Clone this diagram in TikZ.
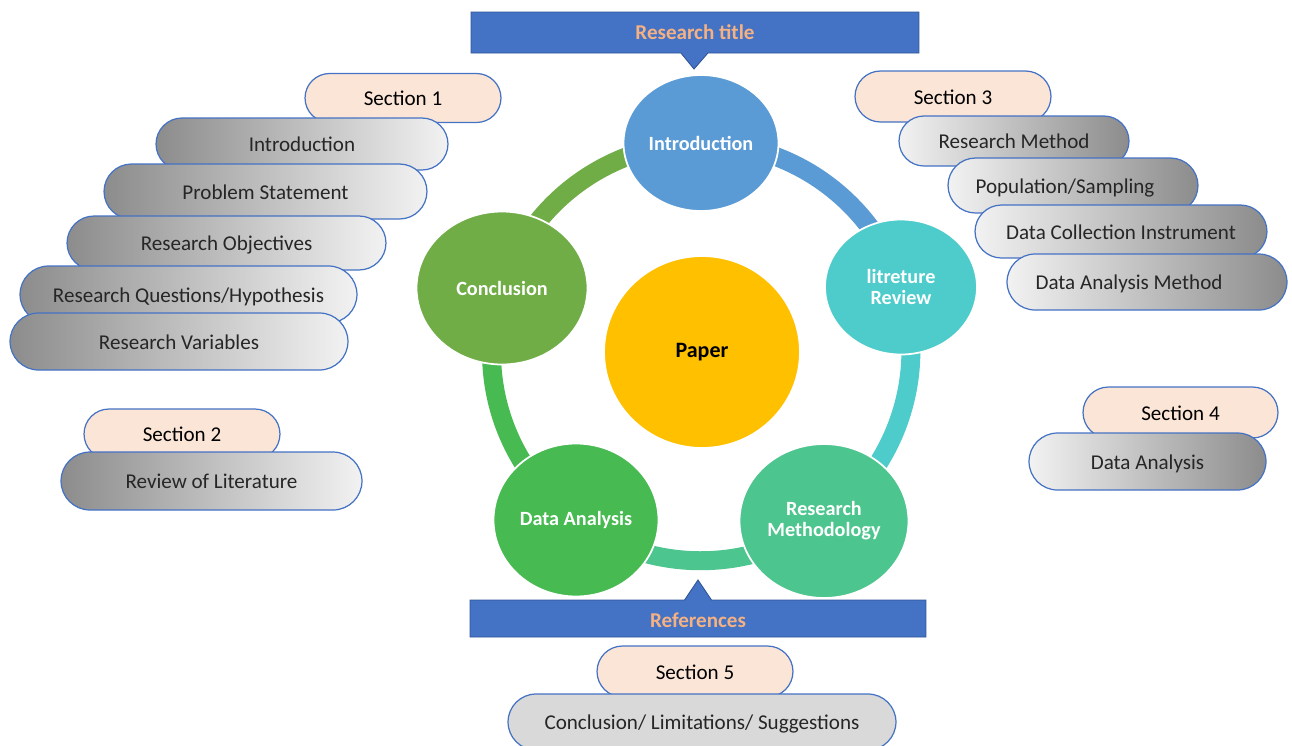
\documentclass[tikz,border=0pt]{standalone}
\usepackage{fontspec}
\setmainfont{Carlito}
\usepackage{tikz}
\usetikzlibrary{shapes.geometric,shapes.misc,shapes.callouts,backgrounds}
\definecolor{bannerblue}{HTML}{4472C4}
\definecolor{bannerline}{HTML}{2F5597}
\definecolor{peach}{HTML}{F4B183}
\definecolor{secfill}{HTML}{FBE5D6}
\definecolor{pilldark}{HTML}{8C8C8C}
\definecolor{pilllight}{HTML}{F2F2F2}
\definecolor{pillgray}{HTML}{D9D9D9}
\definecolor{pilltext}{HTML}{262626}
\definecolor{introcol}{HTML}{5B9BD5}
\definecolor{litcol}{HTML}{4ECBCB}
\definecolor{methcol}{HTML}{4DC58E}
\definecolor{datacol}{HTML}{47BA52}
\definecolor{conccol}{HTML}{70AD47}
\definecolor{papercol}{HTML}{FFC000}
\tikzset{
	pill/.style={rounded rectangle, draw=bannerblue, line width=0.7pt, inner sep=0pt, text height=1em, text depth=0.1em, text=pilltext, font=\fontsize{12}{14}\selectfont},
	pillL/.style={pill, left color=pilldark, right color=pilllight},
	pillR/.style={pill, left color=pilllight, right color=pilldark},
	secpill/.style={pill, fill=secfill, text=black},
	stage/.style={ellipse, draw=white, line width=1pt, inner sep=0pt, text=white, align=center, font=\bfseries\fontsize{11.5}{12}\selectfont},
	ring/.style={line width=10.8pt, bend left=36, looseness=0.94},
	banner/.style={rectangle callout, fill=bannerblue, draw=bannerline, line width=0.5pt, text=peach, font=\bfseries\fontsize{12}{14}\selectfont, inner sep=0pt, callout pointer width=0.54cm}
}
\begin{document}
\begin{tikzpicture}[x=0.02cm, y=-0.02cm]
			\useasboundingbox (0,0) rectangle (1292,745);
			\coordinate (titletip) at (694,69);
			\coordinate (reftip) at (698,580);
			\node[banner, callout absolute pointer=(titletip), minimum width=8.96cm, minimum height=0.82cm] (title) at (695,32.5) {Research title};
			\node[banner, callout absolute pointer=(reftip), text height=1.05em, text depth=0.05em, minimum width=9.12cm, minimum height=0.74cm] (refs) at (698,618.5) {References};
			\node[stage, fill=introcol, minimum width=3.1cm, minimum height=2.72cm] (intro) at (701,143) {Introduction};
			\node[stage, fill=litcol, minimum width=3.04cm, minimum height=2.7cm] (litrev) at (901,287) {litreture\\Review};
			\node[stage, fill=methcol, minimum width=3.38cm, minimum height=3.08cm] (resmeth) at (824,521) {Research\\Methodology};
			\node[stage, fill=datacol, minimum width=3.3cm, minimum height=3.06cm] (dataan) at (576,520) {Data Analysis};
			\node[stage, fill=conccol, minimum width=3.42cm, minimum height=3.06cm] (concl) at (502,288) {Conclusion};
			\node[stage, fill=papercol, text=black, font=\bfseries\fontsize{12.5}{14}\selectfont, minimum width=3.92cm, minimum height=3.84cm] (paper) at (702,352) {Paper};
			\begin{scope}[on background layer]
				\draw[ring, introcol] (intro.center) to (litrev.center);
				\draw[ring, litcol] (litrev.center) to (resmeth.center);
				\draw[ring, methcol] (resmeth.center) to (dataan.center);
				\draw[ring, datacol] (dataan.center) to (concl.center);
				\draw[ring, conccol] (concl.center) to (intro.center);
			\end{scope}
			\node[secpill, minimum width=3.92cm, minimum height=0.98cm] (sec1) at (403,98) {Section 1};
			\node[pillL, minimum width=5.84cm, minimum height=1.04cm] (lintro) at (302,144) {Introduction};
			\node[pillL, minimum width=6.46cm, minimum height=1.1cm] (lprob) at (265.5,191.5) {Problem Statement};
			\node[pillL, minimum width=6.38cm, minimum height=1.08cm] (lobj) at (226.5,243) {Research Objectives};
			\node[pillL, minimum width=6.74cm, minimum height=1.14cm] (lquest) at (188.5,294.5) {Research Questions/Hypothesis};
			\node[pillL, minimum width=6.76cm, minimum height=1.14cm] (lvar) at (179,341.5) {Research Variables};
			\node[secpill, minimum width=3.92cm, minimum height=1cm] (sec2) at (182,434) {Section 2};
			\node[pillL, minimum width=6.02cm, minimum height=1.16cm] (lrev) at (211.5,481) {Review of Literature};
			\node[secpill, minimum width=3.92cm, minimum height=1.02cm] (sec3) at (953,96.5) {Section 3};
			\node[pillR, minimum width=4.6cm, minimum height=1cm] (rmeth) at (1014,141) {Research Method};
			\node[pillR, minimum width=5cm, minimum height=1.1cm] (rpop) at (1073,185.5) {Population/Sampling\hspace*{0.32cm}};
			\node[pillR, minimum width=5.84cm, minimum height=1.06cm] (rinst) at (1121,231.5) {Data Collection Instrument};
			\node[pillR, minimum width=5.6cm, minimum height=1.12cm] (rana) at (1147,282) {Data Analysis Method\hspace*{0.72cm}};
			\node[secpill, minimum width=3.9cm, minimum height=1.02cm] (sec4) at (1180.5,412.5) {Section 4};
			\node[pillR, minimum width=4.74cm, minimum height=1.14cm] (rdata) at (1147.5,461.5) {Data Analysis};
			\node[secpill, minimum width=3.92cm, minimum height=1.02cm] (sec5) at (695,671.5) {Section 5};
			\node[pill, fill=pillgray, minimum width=7.76cm, minimum height=1.12cm] (concpill) at (702,722) {Conclusion/ Limitations/ Suggestions};
		\end{tikzpicture}
\end{document}
